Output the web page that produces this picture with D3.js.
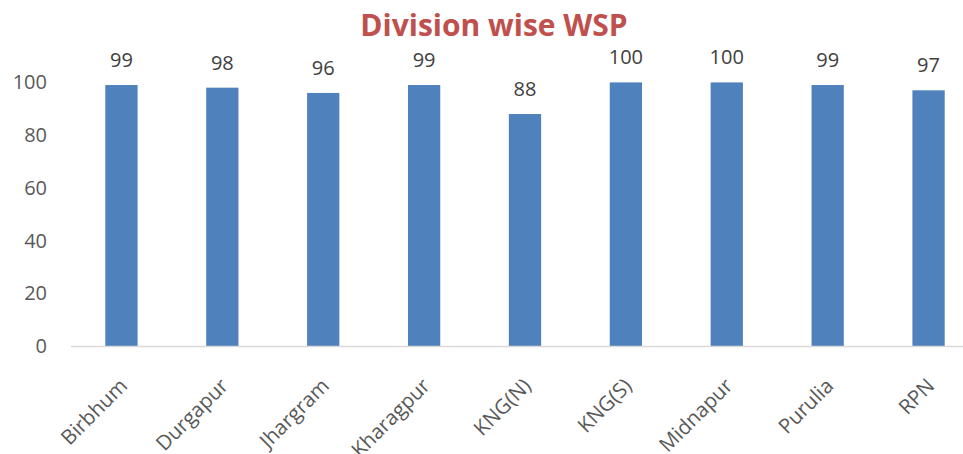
<!DOCTYPE html>
<html>
<head>
<meta charset="utf-8">
<script src="https://cdn.jsdelivr.net/npm/d3@7"></script>
<style>
  body { margin: 0; background: #fff; }
  text { font-family: "Open Sans", Lato, sans-serif; }
</style>
</head>
<body>
<div id="chart"></div>
<script>
// 数据
var divisions = ["Birbhum", "Durgapur", "Jhargram", "Kharagpur", "KNG(N)", "KNG(S)", "Midnapur", "Purulia", "RPN"];
var wspValues = [99, 98, 96, 99, 88, 100, 100, 99, 97];
var yTicks = [0, 20, 40, 60, 80, 100];
var chartTitle = "Division wise WSP";

var width = 963, height = 454;

var svg = d3.select("#chart").append("svg")
    .attr("width", width)
    .attr("height", height);

// 比例尺
var x = d3.scaleBand()
    .domain(divisions)
    .range([71, 979])
    .paddingInner(0.68)
    .paddingOuter(0.34);

var y = d3.scaleLinear()
    .domain([0, 100])
    .range([346, 82.4]);

// 标题
svg.append("text")
    .attr("x", 494)
    .attr("y", 36)
    .attr("text-anchor", "middle")
    .style("font-size", "30px")
    .style("font-weight", "bold")
    .style("fill", "#C0504D")
    .text(chartTitle);

// y轴标签
svg.append("g")
    .selectAll("text")
    .data(yTicks)
    .enter().append("text")
    .attr("x", 47)
    .attr("y", function (d) { return y(d); })
    .attr("dy", "0.35em")
    .attr("text-anchor", "end")
    .style("font-size", "20px")
    .style("fill", "#595959")
    .text(function (d) { return d; });

// 柱子
svg.append("g")
    .selectAll("rect")
    .data(wspValues)
    .enter().append("rect")
    .attr("x", function (d, i) { return x(divisions[i]); })
    .attr("y", function (d) { return y(d); })
    .attr("width", x.bandwidth())
    .attr("height", function (d) { return y(0) - y(d); })
    .style("fill", "#4F81BD");

// x轴线
svg.append("line")
    .attr("x1", 71)
    .attr("x2", width)
    .attr("y1", y(0) + 0.5)
    .attr("y2", y(0) + 0.5)
    .style("stroke", "#D9D9D9")
    .style("stroke-width", 1.5);

// 数值标签
svg.append("g")
    .selectAll("text")
    .data(wspValues)
    .enter().append("text")
    .attr("x", function (d, i) { return x(divisions[i]) + x.bandwidth() / 2; })
    .attr("y", function (d) { return y(d) - 18; })
    .attr("text-anchor", "middle")
    .style("font-size", "20px")
    .style("fill", "#404040")
    .text(function (d) { return d; });

// x轴分类标签
svg.append("g")
    .selectAll("text")
    .data(divisions)
    .enter().append("text")
    .attr("transform", function (d) {
        var cx = x(d) + x.bandwidth() / 2 - 3;
        return "translate(" + cx + ",377)rotate(-45)";
    })
    .attr("dy", "0.7em")
    .attr("text-anchor", "end")
    .style("font-size", "20.5px")
    .style("fill", "#595959")
    .text(function (d) { return d; });
</script>
</body>
</html>
